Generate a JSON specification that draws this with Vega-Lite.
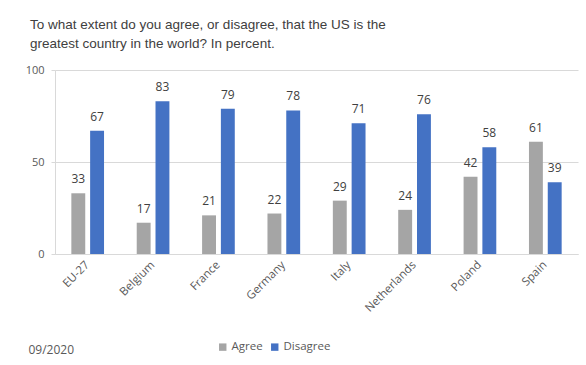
{
  "$schema": "https://vega.github.io/schema/vega-lite/v6.json",
  "width": 523,
  "height": 184,
  "autosize": {"type": "none"},
  "padding": {"left": 55, "top": 70, "right": 8, "bottom": 111},
  "background": "white",
  "title": {
    "text": ["To what extent do you agree, or disagree, that the US is the", "greatest country in the world? In percent."],
    "anchor": "start",
    "frame": "group",
    "dx": -25,
    "offset": 14,
    "font": "Liberation Sans",
    "fontSize": 13.5,
    "fontWeight": "normal",
    "color": "#404040",
    "lineHeight": 19
  },
  "data": {
    "values": [
      {"country": "EU-27", "response": "Agree", "value": 33},
      {"country": "EU-27", "response": "Disagree", "value": 67},
      {"country": "Belgium", "response": "Agree", "value": 17},
      {"country": "Belgium", "response": "Disagree", "value": 83},
      {"country": "France", "response": "Agree", "value": 21},
      {"country": "France", "response": "Disagree", "value": 79},
      {"country": "Germany", "response": "Agree", "value": 22},
      {"country": "Germany", "response": "Disagree", "value": 78},
      {"country": "Italy", "response": "Agree", "value": 29},
      {"country": "Italy", "response": "Disagree", "value": 71},
      {"country": "Netherlands", "response": "Agree", "value": 24},
      {"country": "Netherlands", "response": "Disagree", "value": 76},
      {"country": "Poland", "response": "Agree", "value": 42},
      {"country": "Poland", "response": "Disagree", "value": 58},
      {"country": "Spain", "response": "Agree", "value": 61},
      {"country": "Spain", "response": "Disagree", "value": 39}
    ]
  },
  "encoding": {
    "x": {
      "field": "country",
      "type": "nominal",
      "sort": null,
      "scale": {"paddingInner": 0.5, "paddingOuter": 0.25},
      "axis": {
        "title": "09/2020",
        "titleAnchor": "start",
        "titleAlign": "left",
        "titleX": -27,
        "titleY": 99,
        "titleBaseline": "alphabetic",
        "titleFont": "Open Sans",
        "titleFontSize": 12,
        "titleFontWeight": "normal",
        "titleColor": "#595959",
        "labelAngle": -45,
        "labelAlign": "right",
        "labelBaseline": "middle",
        "labelPadding": 9,
        "labelFont": "Open Sans",
        "labelFontSize": 11.5,
        "labelColor": "#595959",
        "ticks": false,
        "domainColor": "#d9d9d9",
        "grid": false
      }
    },
    "xOffset": {
      "field": "response",
      "type": "nominal",
      "scale": {"paddingInner": 0.26}
    },
    "y": {
      "field": "value",
      "type": "quantitative",
      "scale": {"domain": [0, 100]},
      "axis": {
        "values": [0, 50, 100],
        "title": null,
        "labelFont": "Open Sans",
        "labelFontSize": 11,
        "labelColor": "#595959",
        "labelPadding": 7,
        "tickSize": 4,
        "tickColor": "#d9d9d9",
        "domainColor": "#d9d9d9",
        "gridColor": "#d9d9d9"
      }
    },
    "color": {
      "field": "response",
      "type": "nominal",
      "scale": {"domain": ["Agree", "Disagree"], "range": ["#A5A5A5", "#4472C4"]},
      "legend": {
        "title": null,
        "orient": "none",
        "direction": "horizontal",
        "legendX": 162,
        "legendY": 271,
        "symbolType": "square",
        "symbolSize": 55,
        "symbolStrokeWidth": 0,
        "labelFont": "Open Sans",
        "labelFontSize": 11.5,
        "labelColor": "#595959",
        "labelOffset": 3,
        "columnPadding": 6
      }
    }
  },
  "layer": [
    {"mark": {"type": "bar"}},
    {
      "mark": {"type": "text", "baseline": "bottom", "dy": -7, "font": "Open Sans", "fontSize": 12, "color": "#404040"},
      "encoding": {"text": {"field": "value", "type": "quantitative"}, "color": {"value": "#404040"}}
    }
  ],
  "config": {
    "view": {"stroke": null}
  }
}
